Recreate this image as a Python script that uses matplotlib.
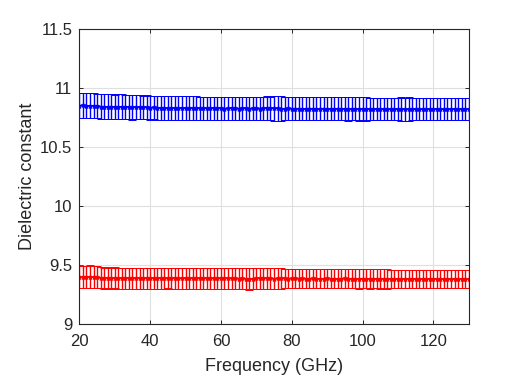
import numpy as np
import matplotlib
matplotlib.use('Agg')
import matplotlib.pyplot as plt

plt.rcParams['font.family'] = ['Liberation Sans', 'DejaVu Sans']

# Frequency grid (GHz), one point per GHz
freq = np.arange(20, 131, 1)

# Blue series (upper material)
blue_mean = [
    10.849, 10.850, 10.848, 10.847, 10.849, 10.846,
    10.841, 10.840, 10.839, 10.841, 10.838, 10.839, 10.840, 10.837, 10.838, 10.836,
    10.834, 10.835, 10.833, 10.834, 10.832, 10.833, 10.831,
    10.829, 10.830, 10.828, 10.829, 10.827, 10.828, 10.829, 10.827, 10.828, 10.826, 10.828,
    10.826, 10.827, 10.825, 10.826, 10.827, 10.825, 10.826, 10.824, 10.825, 10.826, 10.825,
    10.824, 10.826, 10.825, 10.824, 10.825, 10.826, 10.824, 10.825, 10.828, 10.826, 10.825,
    10.825, 10.824, 10.823, 10.825, 10.824, 10.823, 10.824, 10.822, 10.823, 10.824, 10.823,
    10.822, 10.823, 10.824, 10.822, 10.823, 10.822, 10.824, 10.823, 10.822, 10.821, 10.823,
    10.822, 10.821, 10.822, 10.821,
    10.820, 10.821, 10.819, 10.820, 10.821, 10.819, 10.820, 10.818, 10.819, 10.817, 10.816,
    10.817, 10.819, 10.820, 10.818, 10.819, 10.820, 10.818, 10.819, 10.820, 10.819, 10.818,
    10.819, 10.820, 10.818, 10.819, 10.818, 10.819, 10.818,
]
blue_err = [
    0.105, 0.105, 0.105, 0.105, 0.105, 0.105,
    0.105, 0.105, 0.105, 0.105, 0.105, 0.105, 0.105, 0.105, 0.105, 0.105,
    0.101, 0.101, 0.101, 0.101, 0.101, 0.101, 0.101,
    0.102, 0.102, 0.102, 0.102, 0.102, 0.102, 0.102, 0.102, 0.102, 0.102, 0.102,
    0.099, 0.099, 0.099, 0.099, 0.099, 0.099, 0.099, 0.099, 0.099, 0.099, 0.099,
    0.099, 0.099, 0.099, 0.099, 0.099, 0.099, 0.099, 0.099, 0.099, 0.099, 0.107,
    0.107, 0.107, 0.099, 0.099, 0.099, 0.099, 0.099, 0.099, 0.099, 0.099, 0.099,
    0.099, 0.099, 0.099, 0.099, 0.099, 0.099, 0.099, 0.099, 0.099, 0.099, 0.099,
    0.099, 0.099, 0.099, 0.099,
    0.093, 0.093, 0.093, 0.093, 0.093, 0.093, 0.093, 0.093, 0.093, 0.101, 0.101,
    0.101, 0.093, 0.093, 0.093, 0.093, 0.093, 0.093, 0.093, 0.093, 0.093, 0.093,
    0.093, 0.093, 0.093, 0.093, 0.093, 0.093, 0.093,
]

# Red series (lower material)
red_mean = [
    9.401, 9.400, 9.399, 9.401, 9.400, 9.399,
    9.390, 9.389, 9.391, 9.388, 9.390, 9.389, 9.387, 9.388, 9.386, 9.388, 9.389,
    9.387, 9.388, 9.386, 9.387, 9.388, 9.386,
    9.387, 9.386, 9.388, 9.386, 9.387, 9.385, 9.386, 9.387, 9.385, 9.386, 9.387,
    9.386, 9.385, 9.386, 9.387, 9.385, 9.386, 9.385, 9.387, 9.386, 9.385, 9.386,
    9.384, 9.385, 9.383, 9.382, 9.384, 9.385, 9.386, 9.385, 9.386, 9.385, 9.384,
    9.386, 9.385,
    9.385, 9.384, 9.385, 9.386, 9.384, 9.385, 9.384, 9.383, 9.385, 9.384, 9.383,
    9.384, 9.385, 9.383, 9.384, 9.383, 9.384, 9.385, 9.383, 9.384, 9.383, 9.382,
    9.384, 9.383, 9.382, 9.383, 9.384, 9.382, 9.383, 9.382,
    9.381, 9.382, 9.380, 9.381, 9.382, 9.380, 9.381, 9.380, 9.382, 9.381, 9.380,
    9.381, 9.380, 9.381, 9.382, 9.380, 9.381, 9.380, 9.381, 9.380, 9.381, 9.380,
    9.381,
]
red_err = [
    0.094, 0.094, 0.094, 0.094, 0.094, 0.094,
    0.089, 0.089, 0.089, 0.089, 0.089, 0.089, 0.089, 0.089, 0.089, 0.089, 0.089,
    0.089, 0.089, 0.089, 0.089, 0.089, 0.089,
    0.087, 0.087, 0.087, 0.087, 0.087, 0.087, 0.087, 0.087, 0.087, 0.087, 0.087,
    0.087, 0.087, 0.087, 0.087, 0.087, 0.087, 0.087, 0.087, 0.087, 0.087, 0.087,
    0.087, 0.091, 0.091, 0.091, 0.091, 0.091, 0.091, 0.087, 0.087, 0.087, 0.087,
    0.087, 0.087,
    0.082, 0.082, 0.082, 0.082, 0.082, 0.082, 0.082, 0.082, 0.082, 0.082, 0.082,
    0.082, 0.082, 0.082, 0.082, 0.082, 0.082, 0.082, 0.082, 0.082, 0.082, 0.082,
    0.082, 0.082, 0.082, 0.082, 0.082, 0.082, 0.082, 0.082,
    0.077, 0.077, 0.077, 0.077, 0.077, 0.077, 0.077, 0.077, 0.077, 0.077, 0.077,
    0.077, 0.077, 0.077, 0.077, 0.077, 0.077, 0.077, 0.077, 0.077, 0.077, 0.077,
    0.077,
]

AX_COLOR = '#262626'

fig = plt.figure(figsize=(5.29, 3.78), dpi=100)
ax = fig.add_axes([0.150, 0.143, 0.736, 0.781])

for mean, err, color in [(blue_mean, blue_err, (0, 0, 1)), (red_mean, red_err, (1, 0, 0))]:
    ax.errorbar(freq, mean, yerr=err, color=color, lw=1.0, elinewidth=1.0,
                capsize=2.55, capthick=1.0, marker='*', ms=3.5, mew=0.7)

ax.set_xlim(20, 130)
ax.set_ylim(9, 11.5)
ax.set_xticks([20, 40, 60, 80, 100, 120])
ax.set_yticks([9, 9.5, 10, 10.5, 11, 11.5])
ax.set_yticklabels(['9', '9.5', '10', '10.5', '11', '11.5'])
ax.grid(True, color='#dfdfdf', lw=0.8)
ax.set_axisbelow(True)
ax.tick_params(direction='in', top=True, right=True, length=3, width=0.7,
               colors=AX_COLOR, labelsize=12)
ax.tick_params(axis='x', pad=7)
ax.tick_params(axis='y', pad=5)
for sp in ax.spines.values():
    sp.set_color(AX_COLOR)
    sp.set_linewidth(0.8)

ax.set_xlabel('Frequency (GHz)', fontsize=13, color=AX_COLOR, labelpad=7)
ax.set_ylabel('Dielectric constant', fontsize=13, color=AX_COLOR, labelpad=3)

fig.savefig('out.png', dpi=100)
